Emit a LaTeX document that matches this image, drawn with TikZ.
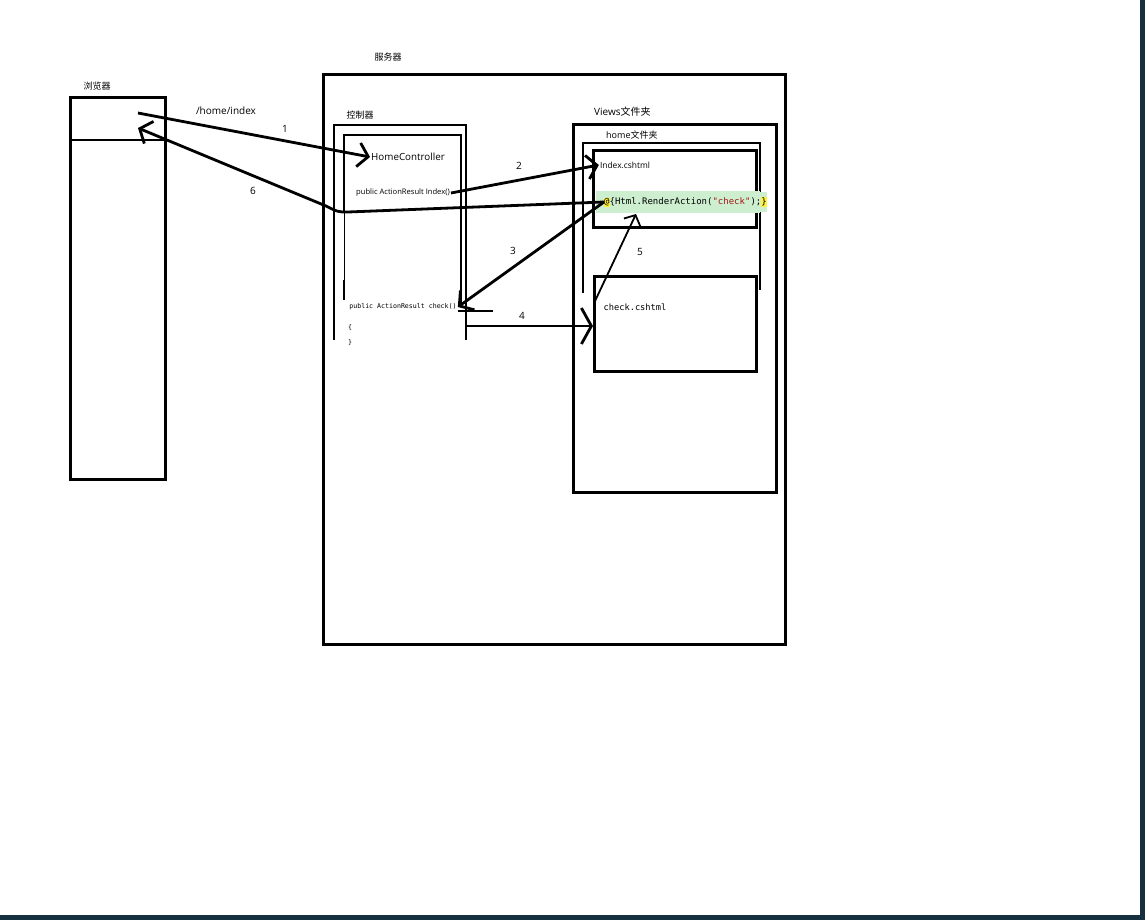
\documentclass[tikz,border=0pt]{standalone}
\usepackage{fontspec}
\setmainfont{Open Sans}
\setmonofont{DejaVu Sans Mono}
\newfontfamily\cjk{Noto Sans CJK SC}
\usepackage{xcolor}
\usetikzlibrary{arrows.meta}
\definecolor{edgebar}{HTML}{17303F}
\definecolor{codegreen}{HTML}{CDEFD0}
\definecolor{codeyellow}{HTML}{FFF23A}
\definecolor{strred}{HTML}{A31515}
\tikzset{
  frame/.style={rectangle, draw=black, line width=2.7pt, anchor=north west, inner sep=0pt},
  pen/.style={draw=black, line width=2.7pt},
  thinpen/.style={draw=black, line width=1pt},
  cjklbl/.style={font=\cjk\fontsize{9}{10}\selectfont, inner sep=1pt},
  lbl/.style={font=\fontsize{10}{12}\selectfont, inner sep=1pt},
  numlbl/.style={font=\fontsize{10}{12}\selectfont, inner sep=1pt},
  codelbl/.style={font=\ttfamily\fontsize{#1}{#1}\selectfont, inner sep=1pt},
  flow/.style={-{Straight Barb[length=10pt, width=24pt, line width=2.8pt]}, line width=2.8pt},
  bigflow/.style={-{Straight Barb[length=10pt, width=36pt, line width=2.8pt]}, line width=2.8pt},
  thinflow/.style={-{Straight Barb[length=8pt, width=18pt, line width=1.8pt]}, line width=1.8pt},
}

\begin{document}
\begin{tikzpicture}[x=1pt, y=-1pt]
\useasboundingbox (0,0) rectangle (1145,920);
% ---- window edge ----
\fill[edgebar] (1140,0) rectangle (1145,920);
\fill[edgebar] (0,915) rectangle (1145,920);
% ---- browser ----
\node[cjklbl] (blbl) at (97,86) {浏览器};
\node[frame, minimum width=95pt, minimum height=382pt] (browser) at (69,96) {};
\draw[pen] (69,140) -- (164,140);
% ---- server ----
\node[cjklbl] (slbl) at (388,57) {服务器};
\node[frame, minimum width=462pt, minimum height=570pt] (server) at (322,73) {};
% ---- controller (open brackets) ----
\node[cjklbl] (clbl) at (360,115) {控制器};
\draw[pen] (334,340) -- (334,125) -- (466,125) -- (466,340);
\draw[pen] (344,212) -- (344,135) -- (461,135) -- (461,307);
\draw[thinpen] (344,212) -- (344,280);
\draw[pen] (344,280) -- (344,300);
\node[font=\fontsize{9.8}{11}\selectfont, inner sep=1pt] (hc) at (408,157) {HomeController};
\node[font=\fontsize{7.6}{9}\selectfont, inner sep=1pt] (ix) at (403,193) {public ActionResult Index()};
\node[codelbl=6.6] (ck) at (403,307) {public ActionResult check()};
\node[codelbl=6.6] (ob) at (350,328) {\{};
\node[codelbl=6.6] (cb) at (350,343) {\}};
\draw[pen] (458,311) -- (493,311);
% ---- views folder ----
\node[lbl, font=\fontsize{10}{12}\selectfont] (vlbl) at (593,112) [anchor=west] {Views{\cjk 文件夹}};
\node[frame, minimum width=203pt, minimum height=368pt] (views) at (572,123) {};
\node[lbl, font=\fontsize{9}{11}\selectfont] (hlbl) at (605,135) [anchor=west] {home{\cjk 文件夹}};
\draw[pen] (583,293) -- (583,143) -- (760,143) -- (760,290);
% ---- index view ----
\node[frame, line width=3pt, minimum width=163pt, minimum height=77pt] (ibox) at (592,149) {};
\node[font=\fontsize{8.4}{10}\selectfont, inner sep=1pt] (iname) at (625,165) {Index.cshtml};
\fill[codegreen] (596,191) rectangle (760,213);
\node[codelbl=9, fill=codegreen, anchor=west, inner sep=0pt, minimum height=20pt] (rcall) at (604,202)
  {\fboxsep=0pt\colorbox{codeyellow}{\strut@}\{Html.RenderAction(\textcolor{strred}{"check"});\colorbox{codeyellow}{\strut\}}};
% ---- check view ----
\node[frame, line width=3pt, minimum width=162pt, minimum height=95pt] (cbox) at (593,275) {};
\node[codelbl=8.7] (cname) at (635,307) {check.cshtml};
% ---- arrow end points ----
\coordinate (b1) at (138,113);
\coordinate (b6) at (138,128);
\coordinate (p6) at (348,212);
\coordinate (a4) at (466,326);
% ---- arrows ----
\draw[flow] (b1) -- (hc.west);
\draw[flow] (ix.east) -- (iname.west);
\draw[flow] (rcall.west) -- (ck.east);
\draw[bigflow] (a4) -- (a4 -| cbox.west);
\draw[thinflow] (cname.north west) ++(-8,0) -- (636,214);
\draw[flow] (rcall.west) -- (p6) .. controls (338,212) .. (326,206) -- (b6);
% ---- labels ----
\node[lbl] (url) at (226,111) {/home/index};
\node[numlbl] (n1) at (285,129) {1};
\node[numlbl] (n2) at (519,166) {2};
\node[numlbl] (n3) at (513,251) {3};
\node[numlbl] (n4) at (522,316) {4};
\node[numlbl] (n5) at (640,252) {5};
\node[numlbl] (n6) at (253,191) {6};
\end{tikzpicture}
\end{document}
